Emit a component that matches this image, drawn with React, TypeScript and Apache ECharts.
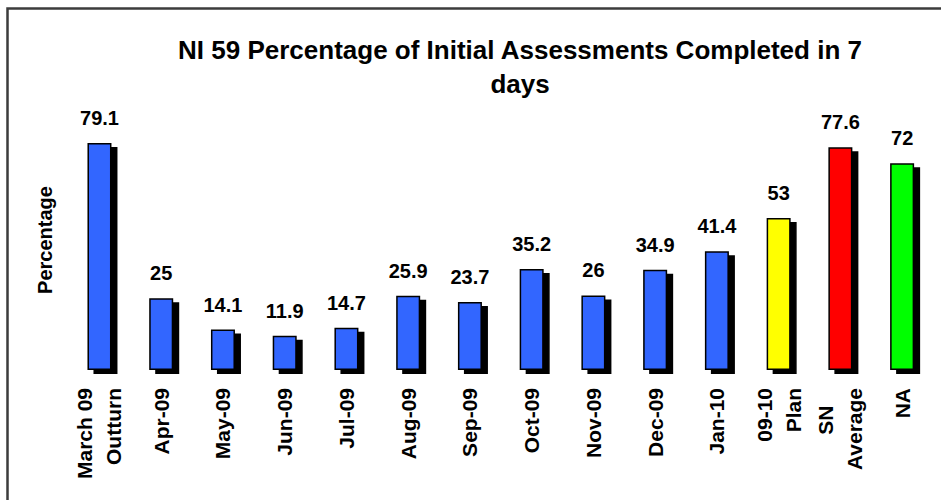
import React, { useEffect, useRef } from "react";
import * as echarts from "echarts";

const titleText = "NI 59 Percentage of Initial Assessments Completed in 7\ndays";
const yAxisTitle = "Percentage";
const categories = [
  "March 09\nOutturn",
  "Apr-09",
  "May-09",
  "Jun-09",
  "Jul-09",
  "Aug-09",
  "Sep-09",
  "Oct-09",
  "Nov-09",
  "Dec-09",
  "Jan-10",
  "09-10\nPlan",
  "SN\u00a0\u00a0\u00a0\nAverage",
  "NA",
];
const values = [79.1, 25, 14.1, 11.9, 14.7, 25.9, 23.7, 35.2, 26, 34.9, 41.4, 53, 77.6, 72];
const barColors = [
  "#3366FF", "#3366FF", "#3366FF", "#3366FF", "#3366FF", "#3366FF", "#3366FF",
  "#3366FF", "#3366FF", "#3366FF", "#3366FF", "#FFFF00", "#FF0000", "#00FF00",
];

const FONT = "'Liberation Sans', Arial, sans-serif";

export default function App() {
  const ref = useRef<HTMLDivElement>(null);
  useEffect(() => {
    if (!ref.current) return;
    const chart = echarts.init(ref.current, undefined, { renderer: "svg" });
    chart.setOption({
      animation: false,
      backgroundColor: "#ffffff",
      title: {
        text: titleText,
        left: 515,
        top: 28,
        textAlign: "center",
        textStyle: {
          fontFamily: FONT,
          fontSize: 26,
          fontWeight: "bold",
          color: "#000",
          lineHeight: 34,
        },
      },
      grid: { left: 68.6, right: 8, top: 83, bottom: 130, containLabel: false },
      xAxis: {
        type: "category",
        data: categories,
        axisLine: { show: false },
        axisTick: { show: false },
        axisLabel: {
          rotate: 90,
          interval: 0,
          margin: 18,
          fontFamily: FONT,
          fontSize: 21,
          fontWeight: "bold",
          color: "#000",
          lineHeight: 29,
        },
      },
      yAxis: {
        type: "value",
        min: 0,
        max: 100,
        show: false,
        splitLine: { show: false },
      },
      graphic: [
        {
          type: "rect",
          shape: { x: 7.5, y: 8.5, width: 1000, height: 1000 },
          style: { fill: "none", stroke: "#3c3c3c", lineWidth: 2.5 },
          silent: true,
        },
        {
          type: "text",
          x: 45,
          y: 240,
          rotation: Math.PI / 2,
          style: {
            text: yAxisTitle,
            fontFamily: FONT,
            fontSize: 20,
            fontWeight: "bold",
            fill: "#000",
            textAlign: "center",
            textVerticalAlign: "middle",
          },
        },
      ],
      series: [
        {
          type: "bar",
          barWidth: 24,
          data: values.map((v, i) => ({
            value: v,
            itemStyle: { color: barColors[i] },
          })),
          itemStyle: {
            borderColor: "#000",
            borderWidth: 1.5,
            shadowColor: "#000",
            shadowBlur: 0,
            shadowOffsetX: 6,
            shadowOffsetY: 4,
          },
          label: {
            show: true,
            position: "top",
            distance: 15,
            fontFamily: FONT,
            fontSize: 20,
            fontWeight: "bold",
            color: "#000",
          },
        },
      ],
    });
    return () => chart.dispose();
  }, []);
  return (
    <div
      ref={ref}
      style={{ position: "absolute", left: 0, top: 0, width: 941, height: 500 }}
    />
  );
}
